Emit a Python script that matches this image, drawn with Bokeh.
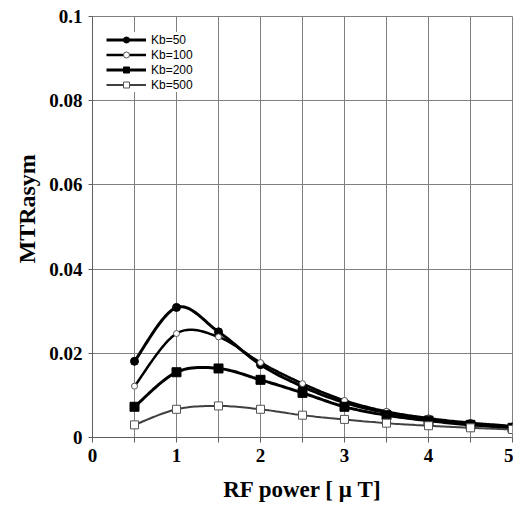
import numpy as np
from bokeh.plotting import figure
from bokeh.models import Range1d, FixedTicker, Title, Legend, LegendItem
from bokeh.embed import file_html
from bokeh.resources import INLINE

# ---- data ----
rf_power = [0.5, 1.0, 1.5, 2.0, 2.5, 3.0, 3.5, 4.0, 4.5, 5.0]
kb50 = [0.0181, 0.0309, 0.0251, 0.0173, 0.0121, 0.0083, 0.0059, 0.0044, 0.0033, 0.0025]
kb100 = [0.0122, 0.0247, 0.0239, 0.0178, 0.0128, 0.0088, 0.0062, 0.0046, 0.0035, 0.0027]
kb200 = [0.0073, 0.0155, 0.0164, 0.0137, 0.0106, 0.0073, 0.0053, 0.0040, 0.0030, 0.0023]
kb500 = [0.0030, 0.0067, 0.0075, 0.0067, 0.0053, 0.0043, 0.0034, 0.0028, 0.0023, 0.0019]
series_names = ["Kb=50", "Kb=100", "Kb=200", "Kb=500"]
x_ticks = [0, 0.5, 1, 1.5, 2, 2.5, 3, 3.5, 4, 4.5, 5]
y_ticks = [0, 0.02, 0.04, 0.06, 0.08, 0.1]
y_tick_labels = ["0", "0.02", "0.04", "0.06", "0.08", "0.1"]


def smooth(xs, ys, n=16):
    """Excel-style smoothed line (Catmull-Rom Bezier) through the points."""
    xs = np.asarray(xs, float)
    ys = np.asarray(ys, float)
    px, py = [], []
    m = len(xs)
    for i in range(m - 1):
        x0, y0 = (xs[i - 1], ys[i - 1]) if i > 0 else (xs[i], ys[i])
        x1, y1 = xs[i], ys[i]
        x2, y2 = xs[i + 1], ys[i + 1]
        x3, y3 = (xs[i + 2], ys[i + 2]) if i + 2 < m else (x2, y2)
        c1x, c1y = x1 + (x2 - x0) / 6, y1 + (y2 - y0) / 6
        c2x, c2y = x2 - (x3 - x1) / 6, y2 - (y3 - y1) / 6
        t = np.linspace(0, 1, n, endpoint=(i == m - 2))
        a = (1 - t) ** 3
        b = 3 * (1 - t) ** 2 * t
        c = 3 * (1 - t) * t ** 2
        d = t ** 3
        px.extend(a * x1 + b * c1x + c * c2x + d * x2)
        py.extend(a * y1 + b * c1y + c * c2y + d * y2)
    return px, py


p = figure(width=513, height=504, output_backend="svg", toolbar_location=None,
           x_range=Range1d(0, 5), y_range=Range1d(0, 0.1),
           min_border_left=92, min_border_right=1, min_border_top=16,
           min_border_bottom=67, background_fill_color="white",
           border_fill_color="white")
p.outline_line_color = "#808080"
p.outline_line_width = 1

grid_col = "#808080"
p.xgrid.ticker = FixedTicker(ticks=x_ticks)
p.ygrid.ticker = FixedTicker(ticks=y_ticks)
for g in (p.xgrid, p.ygrid):
    g.grid_line_color = grid_col
    g.grid_line_width = 1

tick_font = "Liberation Serif"
p.xaxis.ticker = FixedTicker(ticks=x_ticks)
p.xaxis.major_label_overrides = {t: (str(int(t)) if float(t).is_integer() else "") for t in x_ticks}
p.yaxis.ticker = FixedTicker(ticks=y_ticks)
p.yaxis.major_label_overrides = dict(zip(y_ticks, y_tick_labels))
for ax in (p.xaxis, p.yaxis):
    ax.axis_line_color = "#606060"
    ax.major_tick_line_color = "#606060"
    ax.minor_tick_line_color = None
    ax.major_tick_in = 0
    ax.major_label_text_font = tick_font
    ax.major_label_text_font_style = "bold"
    ax.major_label_text_font_size = "19px"
    ax.major_label_text_color = "black"
p.xaxis.major_tick_out = 5
p.xaxis.major_label_standoff = 6
p.yaxis.major_tick_out = 4
p.yaxis.major_label_standoff = 6

p.xaxis.axis_label = "RF power [ \u03bc T]"
p.xaxis.axis_label_text_font = tick_font
p.xaxis.axis_label_text_font_style = "bold"
p.xaxis.axis_label_text_font_size = "23px"
p.xaxis.axis_label_text_color = "black"
p.xaxis.axis_label_standoff = 12

ytitle = Title(text="MTRasym", align="left", offset=174, standoff=14,
               text_font=tick_font, text_font_style="bold",
               text_font_size="24px", text_color="black")
p.add_layout(ytitle, "left")

styles = [
    dict(data=kb50, lc="black", lw=3, marker="circle", size=8, fill="black", mline="black"),
    dict(data=kb100, lc="black", lw=2.5, marker="circle", size=6, fill="white", mline="#555555"),
    dict(data=kb200, lc="black", lw=3, marker="square", size=9, fill="black", mline="black"),
    dict(data=kb500, lc="#404040", lw=2, marker="square", size=8, fill="white", mline="#555555"),
]

items = []
for name, st in zip(series_names, styles):
    sx, sy = smooth(rf_power, st["data"])
    r1 = p.line(sx, sy, line_color=st["lc"], line_width=st["lw"])
    r2 = p.scatter(rf_power, st["data"], marker=st["marker"], size=st["size"],
                   fill_color=st["fill"], line_color=st["mline"], line_width=1)
    items.append(LegendItem(label=name, renderers=[r1, r2]))

legend = Legend(items=items, location=(14, 345), orientation="vertical",
                glyph_width=40, glyph_height=15, label_height=15,
                spacing=0, padding=5, margin=0, label_standoff=5,
                label_text_font="Liberation Sans", label_text_font_size="12px",
                label_text_color="black", border_line_color=None,
                background_fill_color="white", background_fill_alpha=1.0)
p.add_layout(legend, "center")

open("out.html", "w").write(file_html(p, INLINE))
